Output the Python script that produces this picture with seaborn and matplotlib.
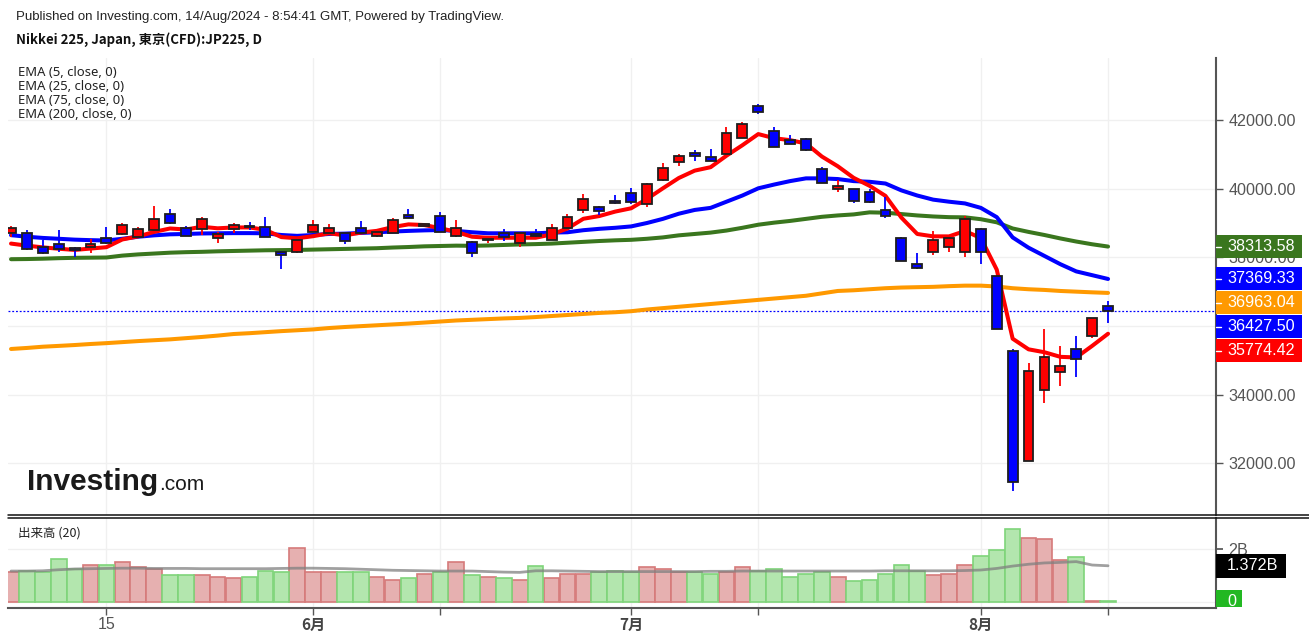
import matplotlib
matplotlib.use("Agg")
import matplotlib.pyplot as plt
import matplotlib.transforms as mtransforms
from matplotlib.lines import Line2D
from matplotlib.patches import Rectangle
import numpy as np
import pandas as pd
import seaborn as sns

# trading days shown (JP225 CFD, daily)
days = ["05-07", "05-08", "05-09", "05-10", "05-13", "05-14", "05-15", "05-16", "05-17", "05-20",
        "05-21", "05-22", "05-23", "05-24", "05-27", "05-28", "05-29", "05-30", "05-31",
        "06-03", "06-04", "06-05", "06-06", "06-07", "06-10", "06-11", "06-12", "06-13", "06-14",
        "06-17", "06-18", "06-19", "06-20", "06-21", "06-24", "06-25", "06-26", "06-27", "06-28",
        "07-01", "07-02", "07-03", "07-04", "07-05", "07-08", "07-09", "07-10", "07-11", "07-12",
        "07-16", "07-17", "07-18", "07-19", "07-22", "07-23", "07-24", "07-25", "07-26", "07-29",
        "07-30", "07-31",
        "08-01", "08-02", "08-05", "08-06", "08-07", "08-08", "08-09", "08-13", "08-14"]

opens = [38700, 38717, 38292, 38379, 38263, 38310, 38554, 38679, 38586, 38796,
         39253, 38845, 38819, 38554, 38820, 38912, 38892, 38164, 38164, 38746,
         38717, 38700, 38863, 38621, 38717, 39233, 38915, 39204, 38621, 38455,
         38490, 38700, 38408, 38670, 38504, 38863, 39378, 39475, 39640, 39865,
         39544, 40252, 40768, 41048, 40913, 41001, 41484, 42408, 41688, 41417,
         41438, 40564, 39981, 39990, 39911, 39378, 38554, 37796, 38149, 38292,
         38149, 38820, 37456, 35280, 32075, 34135, 34650, 35321, 35708, 36582]
highs = [38912, 38796, 38504, 38796, 38310, 38525, 38874, 38990, 38874, 39495,
         39399, 38912, 39166, 38746, 38990, 39038, 39166, 38180, 38520, 39088,
         38970, 38720, 39058, 38796, 39136, 39399, 38950, 39311, 39087, 38470,
         38554, 38820, 38720, 38820, 38962, 39262, 39836, 39500, 39815, 40010,
         40156, 40739, 41010, 41126, 41146, 41805, 41933, 42466, 41805, 41563,
         41484, 40622, 40252, 40000, 39981, 39766, 38601, 38117, 38775, 38600,
         39204, 38840, 37470, 35321, 34930, 35903, 35417, 35708, 36240, 36727]
lows = [38600, 38200, 38100, 38164, 38018, 38135, 38400, 38660, 38570, 38780,
        38980, 38620, 38650, 38408, 38718, 38796, 38590, 37651, 38120, 38730,
        38700, 38388, 38700, 38600, 38700, 39150, 38900, 38730, 38600, 38018,
        38408, 38484, 38310, 38600, 38490, 38850, 39282, 39233, 39544, 39553,
        39476, 40230, 40660, 40815, 40800, 40990, 41470, 42175, 41200, 41290,
        41110, 40160, 39894, 39573, 39577, 39136, 37880, 37670, 38067, 38149,
        38018, 37806, 35900, 31201, 32060, 33765, 34251, 34505, 35640, 36078]
closes = [38845, 38234, 38117, 38234, 38213, 38388, 38408, 38941, 38820, 39107,
          38991, 38630, 39107, 38670, 38941, 38874, 38600, 38067, 38504, 38941,
          38863, 38484, 38717, 38746, 39087, 39154, 38935, 38746, 38863, 38117,
          38504, 38584, 38700, 38621, 38863, 39184, 39690, 39359, 39591, 39620,
          40127, 40611, 40951, 40951, 40815, 41613, 41883, 42242, 41222, 41300,
          41126, 40174, 40086, 39640, 39620, 39204, 37893, 37680, 38504, 38554,
          39116, 38149, 35912, 31464, 34697, 35096, 34834, 35047, 36224, 36427.50]

ema5 = [38400, 38340, 38290, 38250, 38215, 38255, 38295, 38520, 38610, 38740,
        38840, 38810, 38890, 38845, 38870, 38870, 38800, 38590, 38555, 38615,
        38700, 38640, 38720, 38770, 38880, 38960, 38940, 38850, 38740, 38600,
        38570, 38570, 38570, 38570, 38668, 38840, 39123, 39202, 39332, 39428,
        39700, 40010, 40310, 40525, 40625, 40960, 41265, 41590, 41470, 41413,
        41317, 40936, 40653, 40315, 40083, 39790, 39158, 38680, 38611, 38610,
        38767, 38561, 37640, 35630, 35320, 35235, 35101, 35083, 35420, 35774.42]
ema25 = [38645, 38600, 38565, 38540, 38515, 38500, 38490, 38540, 38600, 38640,
         38670, 38680, 38695, 38700, 38705, 38705, 38700, 38650, 38625, 38650,
         38680, 38690, 38710, 38730, 38750, 38770, 38785, 38795, 38770, 38730,
         38700, 38700, 38700, 38700, 38720, 38730, 38790, 38830, 38860, 38900,
         39000, 39120, 39270, 39380, 39440, 39620, 39800, 40010, 40120, 40220,
         40300, 40300, 40280, 40220, 40200, 40150, 39950, 39800, 39680, 39620,
         39570, 39440, 39170, 38580, 38280, 38040, 37800, 37590, 37480, 37369.33]
ema75 = [37945, 37950, 37960, 37975, 37985, 37990, 37995, 38050, 38085, 38110,
         38135, 38150, 38160, 38175, 38185, 38195, 38205, 38210, 38215, 38225,
         38235, 38245, 38255, 38265, 38285, 38300, 38320, 38330, 38340, 38335,
         38345, 38360, 38375, 38385, 38400, 38425, 38450, 38475, 38495, 38510,
         38540, 38580, 38640, 38680, 38720, 38780, 38860, 38950, 39010, 39060,
         39120, 39180, 39220, 39250, 39310, 39300, 39260, 39220, 39190, 39170,
         39165, 39110, 39020, 38840, 38740, 38650, 38550, 38460, 38380, 38313.58]
ema200 = [35330, 35360, 35396, 35420, 35445, 35475, 35500, 35530, 35560, 35585,
          35610, 35645, 35680, 35720, 35766, 35790, 35820, 35850, 35875, 35900,
          35940, 35970, 35995, 36020, 36045, 36070, 36100, 36130, 36160, 36180,
          36200, 36220, 36235, 36260, 36290, 36320, 36350, 36380, 36400, 36430,
          36480, 36520, 36560, 36600, 36640, 36680, 36720, 36760, 36800, 36840,
          36880, 36950, 37020, 37040, 37070, 37100, 37120, 37130, 37140, 37160,
          37175, 37175, 37150, 37100, 37070, 37050, 37020, 37000, 36980, 36963.04]

# volume in billions and its 20-day average
volume = [1.12, 1.17, 1.12, 1.64, 1.24, 1.40, 1.40, 1.52, 1.31, 1.25,
          1.01, 1.01, 1.01, 0.95, 0.89, 0.95, 1.17, 1.12, 2.04, 1.12,
          1.12, 1.12, 1.12, 0.95, 0.83, 0.89, 1.05, 1.12, 1.52, 1.01,
          0.95, 0.89, 0.83, 1.35, 0.89, 1.06, 1.06, 1.12, 1.17, 1.12,
          1.31, 1.25, 1.12, 1.12, 1.06, 1.12, 1.31, 1.17, 1.24, 0.95,
          1.06, 1.12, 0.95, 0.78, 0.84, 1.05, 1.40, 1.18, 1.01, 1.06,
          1.40, 1.76, 1.99, 2.79, 2.44, 2.38, 1.58, 1.69, 0.01, 0.01]
vol_ma = [1.17, 1.17, 1.18, 1.22, 1.25, 1.26, 1.27, 1.28, 1.28, 1.27,
          1.27, 1.27, 1.26, 1.26, 1.26, 1.26, 1.26, 1.27, 1.28, 1.28,
          1.27, 1.26, 1.24, 1.22, 1.20, 1.19, 1.18, 1.17, 1.17, 1.17,
          1.15, 1.13, 1.12, 1.18, 1.18, 1.17, 1.16, 1.15, 1.15, 1.15,
          1.15, 1.15, 1.15, 1.15, 1.16, 1.16, 1.17, 1.17, 1.17, 1.17,
          1.17, 1.17, 1.17, 1.17, 1.17, 1.18, 1.18, 1.18, 1.18, 1.18,
          1.19, 1.21, 1.27, 1.36, 1.43, 1.48, 1.50, 1.53, 1.40, 1.372]

tick_days = {"05-15": "15", "06-03": "6月", "06-13": "", "07-01": "7月",
             "07-11": "", "08-01": "8月", "08-14": ""}

UP, DOWN = "#ff0000", "#0000ff"
C_EMA5, C_EMA25, C_EMA75, C_EMA200 = "#ff0000", "#0000ff", "#3a761e", "#ff9900"
VOL_FACE = {"up": "#e6b0b0", "down": "#b3e6ae"}
VOL_EDGE = {"up": "#d67a7a", "down": "#7fd47a"}

df = pd.DataFrame({"day": days, "open": opens, "high": highs, "low": lows, "close": closes,
                   "ema5": ema5, "ema25": ema25, "ema75": ema75, "ema200": ema200,
                   "volume": volume, "vol_ma": vol_ma})
df["pos"] = np.arange(len(df))
df["dir"] = np.where(df["close"] >= df["open"], "up", "down")

sns.set_theme(style="white")
plt.rcParams["font.family"] = ["Liberation Sans", "Noto Sans CJK JP", "DejaVu Sans"]
CJK = ["Noto Sans CJK JP", "DejaVu Sans"]

W, H = 1309, 641
fig = plt.figure(figsize=(W / 100, H / 100), dpi=100)
ax = fig.add_axes([8 / W, 1 - 515 / H, 1208 / W, 457 / H])
axv = fig.add_axes([8 / W, 1 - 608 / H, 1208 / W, 90 / H])

xlim = (-0.19, 75.79)
tick_pos = [df.index[df["day"] == d][0] for d in tick_days]

# ---- price panel
for col, c in [("ema200", C_EMA200), ("ema75", C_EMA75), ("ema25", C_EMA25), ("ema5", C_EMA5)]:
    sns.lineplot(data=df, x="pos", y=col, ax=ax, color=c, linewidth=2.9, zorder=2)

wick_colors = [UP if d == "up" else DOWN for d in df["dir"]]
ax.vlines(df["pos"], df["low"], df["high"], colors=wick_colors, linewidth=1.3, zorder=3)
body_lo = np.minimum(df["open"], df["close"])
body_h = np.maximum(np.abs(df["close"] - df["open"]), 45)
ax.bar(df["pos"], body_h, bottom=body_lo, width=0.62, color=wick_colors,
       edgecolor="#1e1e1e", linewidth=1.3, zorder=4)

ax.axhline(closes[-1], color=DOWN, linewidth=0.9, linestyle=(0, (1.5, 1.5)), zorder=1.5)

ax.set_xlim(*xlim)
ax.set_ylim(30494, 43806)
ax.set_yticks(np.arange(32000, 42001, 2000))
ax.yaxis.set_major_formatter(matplotlib.ticker.FormatStrFormatter("%.2f"))
ax.yaxis.tick_right()
ax.tick_params(axis="y", right=True, left=False, length=5, width=1, color="#555555",
               labelcolor="#555555", labelsize=11.6, pad=4)
ax.set_xticks(tick_pos)
ax.tick_params(axis="x", bottom=False, labelbottom=False)
ax.grid(True, color="#f0f0f0", linewidth=1)
ax.set_axisbelow(True)
ax.set_xlabel("")
ax.set_ylabel("")
for s in ["top", "left", "bottom"]:
    ax.spines[s].set_visible(False)
ax.spines["right"].set_color("#555555")
ax.spines["right"].set_linewidth(1.5)

# value tags on the price scale
trans = mtransforms.blended_transform_factory(ax.transAxes, ax.transData)
unit_px = 457 / (43806 - 30494)
tag_h = 23 / unit_px
tags = sorted([(ema75[-1], C_EMA75), (ema25[-1], C_EMA25), (ema200[-1], C_EMA200),
               (closes[-1], DOWN), (ema5[-1], C_EMA5)], key=lambda t: -t[0])
prev = None
for val, col in tags:
    y = val if prev is None else min(val, prev - 24 / unit_px)
    prev = y
    ax.add_patch(Rectangle((1.0, y - tag_h / 2), 86 / 1208, tag_h, transform=trans,
                           facecolor=col, edgecolor="none", clip_on=False, zorder=10))
    ax.add_line(Line2D([1.0, 1 + 5 / 1208], [y, y], transform=trans, color="white",
                       linewidth=1, clip_on=False, zorder=11))
    ax.text(1 + 11 / 1208, y, f"{val:.2f}", transform=trans, color="white", fontsize=11.6,
            va="center", ha="left", zorder=12, clip_on=False)

# ---- volume panel
for d in ["up", "down"]:
    sub = df[df["dir"] == d]
    sns.barplot(data=sub, x="pos", y="volume", ax=axv, native_scale=True, width=0.98,
                color=VOL_FACE[d], edgecolor=VOL_EDGE[d], linewidth=1.2, saturation=1,
                errorbar=None, zorder=2)
sns.lineplot(data=df, x="pos", y="vol_ma", ax=axv, color="#808080", alpha=0.75,
             linewidth=2, zorder=3)

axv.set_xlim(*xlim)
axv.set_ylim(-0.24, 3.195)
axv.set_yticks([0, 2])
axv.set_yticklabels(["", "2B"])
axv.yaxis.tick_right()
axv.tick_params(axis="y", right=True, left=False, length=5, color="#555555",
                labelcolor="#555555", labelsize=11.6, pad=4)
axv.set_xticks(tick_pos)
axv.set_xticklabels(list(tick_days.values()))
axv.tick_params(axis="x", bottom=True, length=5, width=1, color="#555555",
                labelcolor="#555555", labelsize=11.5, pad=1.5)
for lab in axv.get_xticklabels():
    if "月" in lab.get_text():
        lab.set_fontfamily(CJK)
        lab.set_fontweight("bold")
        lab.set_color("#444444")
        lab.set_fontsize(11)
axv.grid(True, color="#f0f0f0", linewidth=1)
axv.set_axisbelow(True)
axv.set_xlabel("")
axv.set_ylabel("")
for s in ["top", "left"]:
    axv.spines[s].set_visible(False)
for s in ["right", "bottom"]:
    axv.spines[s].set_color("#555555")
    axv.spines[s].set_linewidth(1.5)

vtrans = mtransforms.blended_transform_factory(axv.transAxes, axv.transData)
vpx = 90 / 3.435
axv.add_patch(Rectangle((1.0, vol_ma[-1] - 12 / vpx), 70 / 1208, 24 / vpx, transform=vtrans,
                        facecolor="black", edgecolor="none", clip_on=False, zorder=10))
axv.text(1 + 11 / 1208, vol_ma[-1], f"{vol_ma[-1]:.3f}B", transform=vtrans, color="white",
         fontsize=11.6, va="center", ha="left", zorder=11, clip_on=False)
axv.add_patch(Rectangle((1.0, -0.2), 26 / 1208, 0.63, transform=vtrans,
                        facecolor="#22b822", edgecolor="none", clip_on=False, zorder=10))
axv.text(1 + 11 / 1208, 0, "0", transform=vtrans, color="white",
         fontsize=11.6, va="center", ha="left", zorder=11, clip_on=False)
axv.text(10 / 1208, 1 - 15 / 90, "出来高 (20)", transform=axv.transAxes, family=CJK,
         fontsize=9, color="#222222", va="center", ha="left")

# panel separator
for yy in (515, 518):
    fig.add_artist(Line2D([8 / W, 1.0], [1 - yy / H] * 2, color="#111111", linewidth=1.1))

# ---- header texts and legend
fig.text(16 / W, 1 - 17 / H, "Published on Investing.com, 14/Aug/2024 - 8:54:41 GMT, Powered by TradingView.",
         fontsize=9.5, color="#222222", va="center", ha="left")
fig.text(16 / W, 1 - 40 / H, "Nikkei 225, Japan, 東京(CFD):JP225, D", family=CJK,
         fontsize=9.5, fontweight="bold", color="#111111", va="center", ha="left")
for k, lab in enumerate(["EMA (5, close, 0)", "EMA (25, close, 0)", "EMA (75, close, 0)",
                         "EMA (200, close, 0)"]):
    fig.text(18 / W, 1 - (72 + 14 * k) / H, lab, family=["Noto Sans", "DejaVu Sans"],
             fontsize=9.4, color="#222222", va="center", ha="left")

fig.text(27 / W, 1 - 490 / H, "Investing", fontsize=21.5, fontweight="bold",
         color="#1a1a1a", va="baseline", ha="left")
fig.text(159 / W, 1 - 490 / H, ".com", fontsize=15, color="#1a1a1a", va="baseline", ha="left")

fig.savefig("out.png", dpi=100)
